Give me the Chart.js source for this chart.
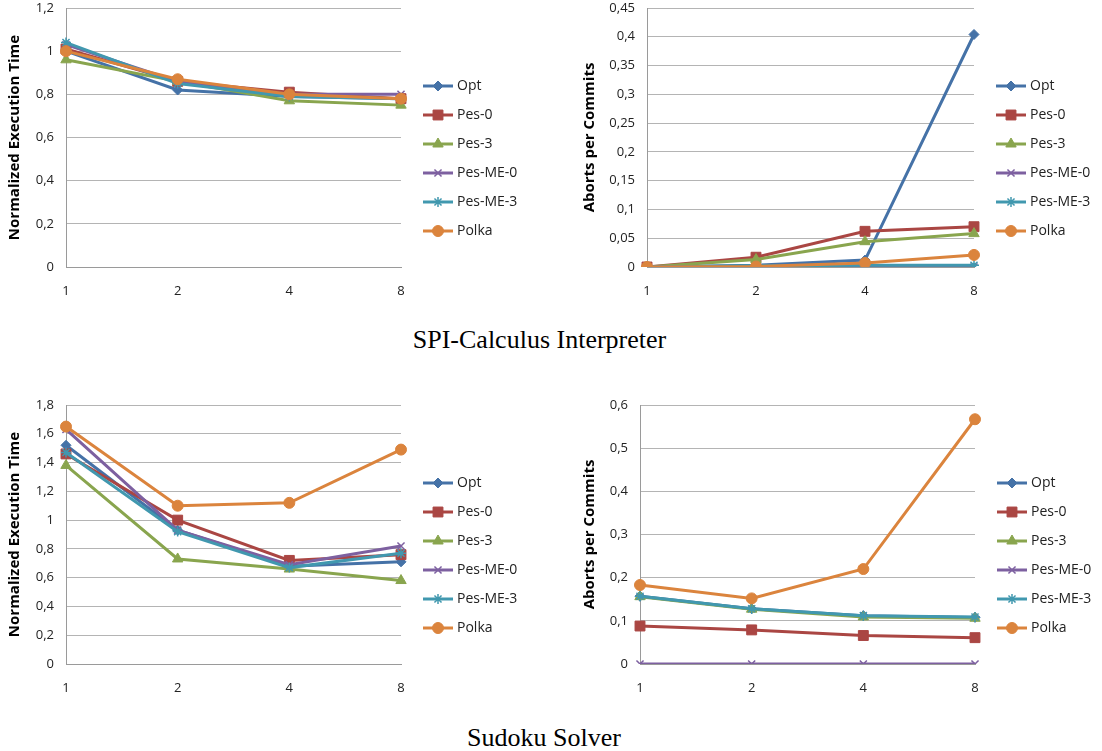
<!DOCTYPE html>
<html>
<head>
<meta charset="utf-8">
<script src="https://cdn.jsdelivr.net/npm/chart.js@4.4.0/dist/chart.umd.min.js"></script>
<style>
html, body { margin: 0; padding: 0; background: #fff; }
body { width: 1102px; height: 751px; position: relative; overflow: hidden; }
.box { position: absolute; }
.cap { position: absolute; text-align: center; font-family: "Liberation Serif", "Times New Roman", serif; font-size: 26px; line-height: 26px; color: #000; }
</style>
</head>
<body>
<div class="box" style="left:0;top:0;width:551px;height:320px"><canvas id="spiTime"></canvas></div>
<div class="box" style="left:560px;top:0;width:542px;height:320px"><canvas id="spiAborts"></canvas></div>
<div class="box" style="left:0;top:397px;width:551px;height:320px"><canvas id="sudokuTime"></canvas></div>
<div class="box" style="left:560px;top:397px;width:542px;height:320px"><canvas id="sudokuAborts"></canvas></div>
<div class="cap" style="left:0;width:1079px;top:327px">SPI-Calculus Interpreter</div>
<div class="cap" style="left:0;width:1088px;top:725px">Sudoku Solver</div>
<script>
// x axis: number of threads
const threads = ["1", "2", "4", "8"];
const seriesNames = ["Opt", "Pes-0", "Pes-3", "Pes-ME-0", "Pes-ME-3", "Polka"];

// SPI-Calculus Interpreter, normalized execution time
const spiTimeOpt    = [1.00, 0.82, 0.79, 0.78];
const spiTimePes0   = [1.01, 0.86, 0.81, 0.78];
const spiTimePes3   = [0.96, 0.86, 0.77, 0.75];
const spiTimePesME0 = [1.03, 0.86, 0.80, 0.80];
const spiTimePesME3 = [1.04, 0.85, 0.79, 0.78];
const spiTimePolka  = [1.00, 0.87, 0.80, 0.78];

// SPI-Calculus Interpreter, aborts per commits
const spiAbortsOpt    = [0, 0.003, 0.012, 0.404];
const spiAbortsPes0   = [0, 0.017, 0.062, 0.070];
const spiAbortsPes3   = [0, 0.013, 0.044, 0.058];
const spiAbortsPesME0 = [0, 0, 0, 0];
const spiAbortsPesME3 = [0, 0.002, 0.003, 0.003];
const spiAbortsPolka  = [0, 0.001, 0.007, 0.021];

// Sudoku Solver, normalized execution time
const sudokuTimeOpt    = [1.52, 0.93, 0.68, 0.71];
const sudokuTimePes0   = [1.46, 1.00, 0.72, 0.76];
const sudokuTimePes3   = [1.38, 0.73, 0.66, 0.58];
const sudokuTimePesME0 = [1.63, 0.93, 0.69, 0.82];
const sudokuTimePesME3 = [1.47, 0.92, 0.67, 0.77];
const sudokuTimePolka  = [1.65, 1.10, 1.12, 1.49];

// Sudoku Solver, aborts per commits
const sudokuAbortsOpt    = [0.157, 0.128, 0.112, 0.108];
const sudokuAbortsPes0   = [0.088, 0.079, 0.066, 0.061];
const sudokuAbortsPes3   = [0.156, 0.127, 0.109, 0.106];
const sudokuAbortsPesME0 = [0, 0, 0, 0];
const sudokuAbortsPesME3 = [0.157, 0.128, 0.112, 0.109];
const sudokuAbortsPolka  = [0.183, 0.152, 0.220, 0.567];

// styles
const seriesColors = ["#4572A7", "#AA4643", "#89A54E", "#7D60A0", "#4198AF", "#DB843D"];
const seriesMarkers = ["rectRot", "rect", "triangle", "crossRot", "star", "circle"];
const markerRadius = [5, 7, 6, 5, 5, 5.5];
const gridColor = "#b4b4b4";
const axisColor = "#9a9a9a";
const textColor = "#222";

// draws the legend on the right with line + marker like excel
const sideLegend = {
	id: "sideLegend",
	afterDraw(chart) {
		const ctx = chart.ctx;
		const area = chart.chartArea;
		const x0 = area.right + 22;
		chart.data.datasets.forEach(function (ds, i) {
			const y = area.top + 78 + i * 29;
			ctx.save();
			ctx.strokeStyle = ds.borderColor;
			ctx.lineWidth = 3;
			ctx.beginPath();
			ctx.moveTo(x0, y);
			ctx.lineTo(x0 + 30, y);
			ctx.stroke();
			ctx.fillStyle = ds.pointBackgroundColor;
			ctx.strokeStyle = ds.pointBorderColor;
			ctx.lineWidth = ds.pointBorderWidth;
			Chart.helpers.drawPoint(ctx, {
				pointStyle: ds.pointStyle,
				radius: ds.pointRadius,
				rotation: 0,
				borderWidth: ds.pointBorderWidth,
			}, x0 + 15, y);
			ctx.fillStyle = textColor;
			ctx.font = '14px "Open Sans"';
			ctx.textAlign = "left";
			ctx.textBaseline = "middle";
			ctx.fillText(ds.label, x0 + 34, y);
			ctx.restore();
		});
	},
};

function fmt(v) {
	return String(+v.toFixed(2)).replace(".", ",");
}

function makeChart(id, series, yMax, yStep, yTitle, yWidth, titlePad, rightPad) {
	const datasets = series.map(function (values, i) {
		const cross = seriesMarkers[i] === "crossRot" || seriesMarkers[i] === "star";
		return {
			label: seriesNames[i],
			data: values,
			borderColor: seriesColors[i],
			backgroundColor: seriesColors[i],
			borderWidth: 3,
			tension: 0,
			pointStyle: seriesMarkers[i],
			pointRadius: markerRadius[i],
			pointBackgroundColor: seriesColors[i],
			pointBorderColor: seriesColors[i],
			pointBorderWidth: cross ? 1.5 : 1,
			order: series.length - i, // later series drawn on top
		};
	});
	return new Chart(document.getElementById(id), {
		type: "line",
		data: { labels: threads, datasets: datasets },
		plugins: [sideLegend],
		options: {
			responsive: true,
			maintainAspectRatio: false,
			animation: false,
			layout: { padding: { top: 8, right: rightPad, bottom: 0, left: 0 } },
			plugins: { legend: { display: false }, tooltip: { enabled: false } },
			scales: {
				x: {
					offset: false,
					grid: { display: false, drawTicks: false },
					border: { display: true, color: axisColor, width: 1 },
					ticks: { padding: 16, color: textColor, font: { family: "Open Sans", size: 13 } },
					afterFit: function (s) {
						s.height = 53;
						s.paddingLeft = 0;
						s.paddingRight = 0;
					},
				},
				y: {
					min: 0,
					max: yMax,
					grid: { color: gridColor, drawTicks: false },
					border: { display: true, color: axisColor, width: 1 },
					ticks: {
						stepSize: yStep,
						padding: 12,
						color: textColor,
						font: { family: "Open Sans", size: 13 },
						callback: function (v) { return fmt(v); },
					},
					title: {
						display: true,
						text: yTitle,
						color: "#000",
						font: { family: "Open Sans", size: 15, weight: "bold", lineHeight: 1.2 },
						padding: { top: titlePad, bottom: 0 },
					},
					afterFit: function (s) {
						s.width = yWidth;
						s.paddingTop = 0;
						s.paddingBottom = 0;
					},
				},
			},
		},
	});
}

makeChart("spiTime",
	[spiTimeOpt, spiTimePes0, spiTimePes3, spiTimePesME0, spiTimePesME3, spiTimePolka],
	1.2, 0.2, "Normalized Execution Time", 66, 6, 150);
makeChart("spiAborts",
	[spiAbortsOpt, spiAbortsPes0, spiAbortsPes3, spiAbortsPesME0, spiAbortsPesME3, spiAbortsPolka],
	0.45, 0.05, "Aborts per Commits", 87, 21, 128);
makeChart("sudokuTime",
	[sudokuTimeOpt, sudokuTimePes0, sudokuTimePes3, sudokuTimePesME0, sudokuTimePesME3, sudokuTimePolka],
	1.8, 0.2, "Normalized Execution Time", 66, 6, 150);
makeChart("sudokuAborts",
	[sudokuAbortsOpt, sudokuAbortsPes0, sudokuAbortsPes3, sudokuAbortsPesME0, sudokuAbortsPesME3, sudokuAbortsPolka],
	0.6, 0.1, "Aborts per Commits", 80, 21, 127);
</script>
</body>
</html>
